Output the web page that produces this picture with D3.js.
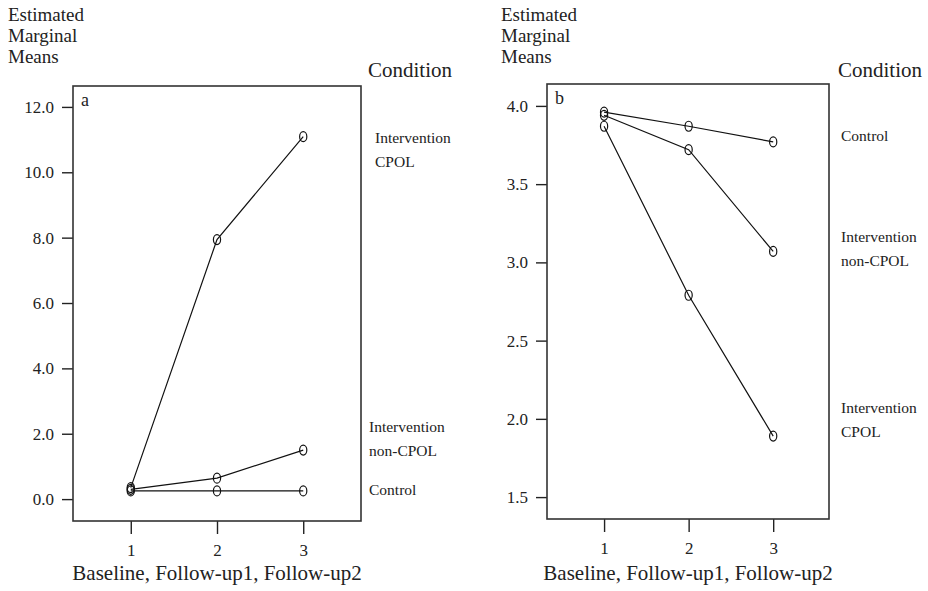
<!DOCTYPE html>
<html>
<head>
<meta charset="utf-8">
<script src="https://cdn.jsdelivr.net/npm/d3@7"></script>
<style>
  body { margin: 0; background: #fff; }
</style>
</head>
<body>
<script>
const FONT = "'Liberation Serif', 'Times New Roman', Times, serif";

// time points
const timePoints = [1, 2, 3];

// panel a values
const aControl = [0.25, 0.25, 0.25];
const aNonCpol = [0.30, 0.64, 1.50];
const aCpol = [0.35, 7.94, 11.09];
const aTicks = [0, 2, 4, 6, 8, 10, 12];

// panel b values
const bControl = [3.96, 3.87, 3.77];
const bNonCpol = [3.94, 3.72, 3.07];
const bCpol = [3.87, 2.79, 1.89];
const bTicks = [1.5, 2.0, 2.5, 3.0, 3.5, 4.0];

const W = 928, H = 591;

const svg = d3.select('body').append('svg')
  .attr('width', W).attr('height', H)
  .attr('font-family', FONT);

function txt(g, x, y, size, s) {
  return g.append('text').attr('x', x).attr('y', y)
    .attr('font-family', FONT).attr('font-size', size)
    .attr('fill', '#222').text(s);
}

// draw one panel
function drawPanel(p) {
  const x = d3.scaleLinear().domain(p.xDomain).range([p.left, p.right]);
  const y = d3.scaleLinear().domain(p.yDomain).range([p.bottom, p.top]);
  const g = svg.append('g');

  // y title
  ['Estimated', 'Marginal', 'Means'].forEach((t, i) => txt(g, p.titleX, 21 + i * 21, 19, t));
  txt(g, p.condX, 77, 21, 'Condition');

  // axes
  const yAxis = g.append('g')
    .attr('transform', `translate(${p.left},0)`)
    .call(d3.axisLeft(y).tickValues(p.ticks).tickSize(11).tickPadding(8)
      .tickFormat(d3.format('.1f')));
  const xAxis = g.append('g')
    .attr('transform', `translate(0,${p.bottom})`)
    .call(d3.axisBottom(x).tickValues(timePoints).tickSize(13).tickPadding(10)
      .tickFormat(d3.format('d')));
  [yAxis, xAxis].forEach(a => {
    a.attr('font-family', FONT).attr('font-size', 17);
    a.select('.domain').remove();
    a.selectAll('line').attr('stroke', '#222').attr('stroke-width', 1.4);
    a.selectAll('text').attr('fill', '#222');
  });

  // frame
  g.append('rect')
    .attr('x', p.left).attr('y', p.top)
    .attr('width', p.right - p.left).attr('height', p.bottom - p.top)
    .attr('fill', 'none').attr('stroke', '#333').attr('stroke-width', 1.6);

  txt(g, p.left + 8, p.top + 20, 18, p.letter);

  txt(g, (p.left + p.right) / 2, 580, 21, 'Baseline, Follow-up1, Follow-up2')
    .attr('text-anchor', 'middle');

  const line = d3.line().x((d, i) => x(timePoints[i])).y(d => y(d));

  p.series.forEach(s => {
    g.append('path').datum(s.values)
      .attr('d', line).attr('fill', 'none')
      .attr('stroke', '#111').attr('stroke-width', 1.2);
    g.selectAll(null).data(s.values).enter().append('ellipse')
      .attr('cx', (d, i) => x(timePoints[i])).attr('cy', d => y(d))
      .attr('rx', 3.6).attr('ry', 5)
      .attr('fill', 'none').attr('stroke', '#111').attr('stroke-width', 1.2);
    s.label.forEach((t, i) => txt(g, p.labelX + (s.dx || 0), s.labelY + i * 24, 15.5, t));
  });
}

drawPanel({
  letter: 'a', titleX: 8, condX: 368,
  left: 73, right: 361, top: 86, bottom: 521,
  xDomain: [0.33, 3.67], yDomain: [-0.67, 12.64], ticks: aTicks,
  labelX: 369,
  series: [
    { values: aControl, label: ['Control'], labelY: 495 },
    { values: aNonCpol, label: ['Intervention', 'non-CPOL'], labelY: 432 },
    { values: aCpol, label: ['Intervention', 'CPOL'], labelY: 143, dx: 6 }
  ]
});

drawPanel({
  letter: 'b', titleX: 501, condX: 838,
  left: 547, right: 829, top: 84, bottom: 519,
  xDomain: [0.325, 3.66], yDomain: [1.36, 4.14], ticks: bTicks,
  labelX: 841,
  series: [
    { values: bControl, label: ['Control'], labelY: 141 },
    { values: bNonCpol, label: ['Intervention', 'non-CPOL'], labelY: 242 },
    { values: bCpol, label: ['Intervention', 'CPOL'], labelY: 413 }
  ]
});
</script>
</body>
</html>
